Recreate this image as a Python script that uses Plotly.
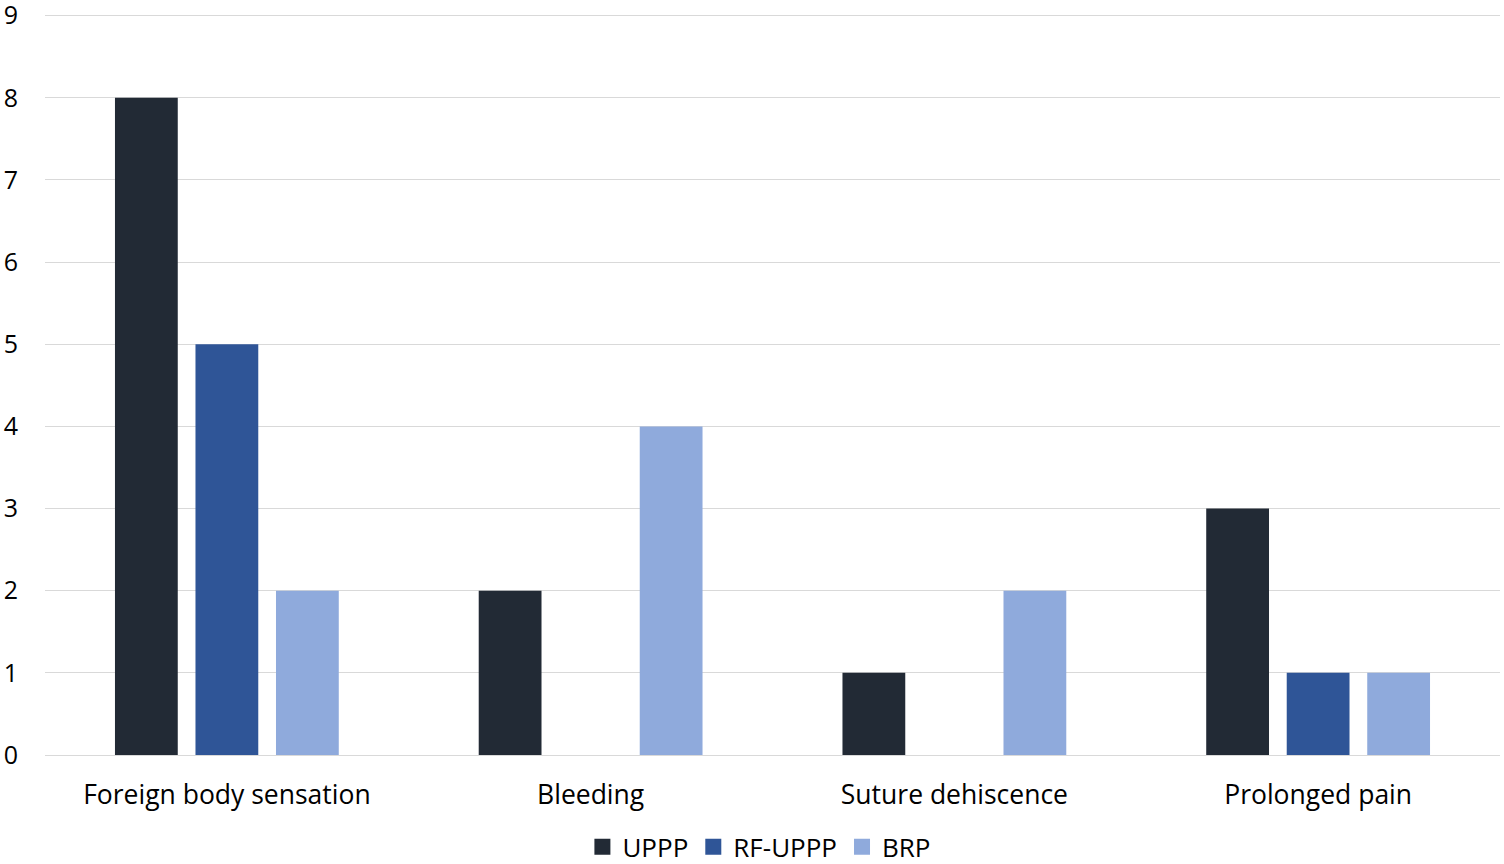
import plotly.graph_objects as go

categories = ["Foreign body sensation", "Bleeding", "Suture dehiscence", "Prolonged pain"]
series_names = ["UPPP", "RF-UPPP", "BRP"]
uppp = [8, 2, 1, 3]
rf_uppp = [5, 0, 0, 1]
brp = [2, 4, 2, 1]
colors = ["#222a35", "#2f5597", "#8faadc"]

fig = go.Figure()
for name, vals, c in zip(series_names, [uppp, rf_uppp, brp], colors):
    fig.add_trace(go.Bar(name=name, x=categories, y=vals, showlegend=False,
                         marker=dict(color=c, line=dict(width=0))))
# legend proxies (larger square swatches)
for name, c in zip(series_names, colors):
    fig.add_trace(go.Scatter(name=name, x=[None], y=[None], mode="markers",
                             marker=dict(symbol="square", size=17, color=c)))

fig.update_layout(
    width=1504, height=864,
    margin=dict(l=45, r=4, t=14, b=109, autoexpand=False),
    paper_bgcolor="white", plot_bgcolor="white",
    barmode="group", bargap=0.336, bargroupgap=0.22,
    font=dict(family="Open Sans", size=26, color="#000000"),
    legend=dict(orientation="h", x=0.491, xanchor="center", y=-0.124, yanchor="middle",
                font=dict(size=26), itemwidth=30, tracegroupgap=0),
    yaxis=dict(range=[0, 9.02], dtick=1, tick0=0, showgrid=True, gridcolor="#d9d9d9", gridwidth=1.3,
               zeroline=False, showline=False, ticks="", ticklabelstandoff=26, automargin=False,
               ticklabeloverflow="allow", tickfont=dict(size=25)),
    xaxis=dict(showline=True, linecolor="#d9d9d9", linewidth=1.3, ticks="", automargin=False,
               ticklabeloverflow="allow", tickfont=dict(size=26.5), ticklabelstandoff=16),
)
fig.write_html("out.html", config={"displayModeBar": False},
               post_script="document.body.style.margin='0';document.body.style.padding='0';")
